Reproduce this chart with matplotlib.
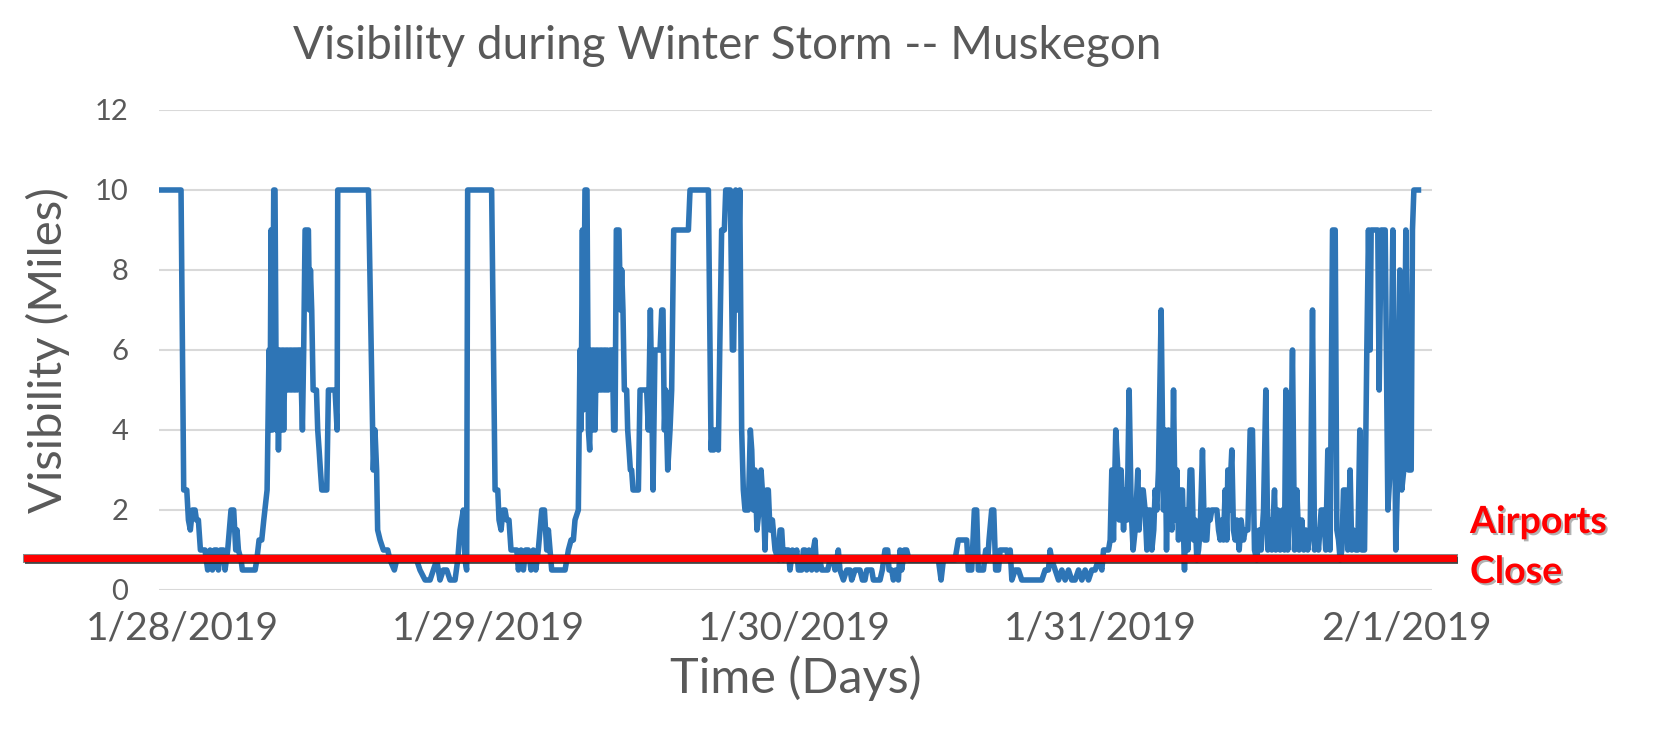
import matplotlib
matplotlib.use("Agg")
import matplotlib.pyplot as plt
import matplotlib.patheffects as pe
import numpy as np

plt.rcParams['font.family'] = ['Lato', 'DejaVu Sans']

# hours since 1/28/2019 00:00 and visibility in miles
hours = [
    -1.89, -0.12, 0.09, 0.33, 0.46, 0.61, 0.77, 0.98, 1.09, 1.24, 1.40, 1.76, 1.97, 2.16, 2.34, 2.50,
    2.68, 2.81, 2.97, 3.20, 3.33, 3.54, 3.80, 4.01, 4.17, 4.27, 4.38, 4.59, 4.69, 5.69, 5.82, 6.00,
    6.21, 6.37, 6.63, 6.78, 6.86, 6.94, 7.05, 7.15, 7.25, 7.36, 7.46, 7.52, 7.62, 7.73, 7.83, 7.93,
    8.04, 8.14, 8.25, 8.35, 8.46, 8.56, 8.67, 8.77, 8.88, 8.98, 9.08, 9.24, 9.40, 9.50, 9.61, 9.87,
    9.95, 10.03, 10.13, 10.24, 10.50, 10.60, 10.71, 10.81, 10.92, 11.31, 11.44, 11.96, 12.12, 12.17,
    14.58, 14.96, 15.09, 15.22, 15.30, 15.49, 15.75, 16.09, 16.27, 16.61, 16.79, 17.45, 18.36, 18.62,
    19.02, 19.41, 19.67, 19.93, 20.19, 20.45, 20.72, 20.98, 21.37, 21.58, 21.76, 22.02, 22.15, 22.28,
    22.36, 24.24, 24.38, 24.51, 24.72, 24.82, 24.98, 25.13, 25.29, 25.42, 25.60, 25.76, 25.94, 26.21,
    26.34, 26.55, 26.73, 26.91, 27.12, 27.33, 27.51, 27.70, 27.90, 28.17, 28.38, 28.56, 28.69, 28.82,
    28.95, 30.00, 30.26, 30.47, 30.65, 30.78, 31.04, 31.17, 31.25, 31.36, 31.43, 31.56, 31.72, 31.83,
    31.93, 32.03, 32.14, 32.24, 32.35, 32.45, 32.56, 32.66, 32.77, 32.87, 32.98, 33.08, 33.19, 33.29,
    33.39, 33.53, 33.71, 33.81, 33.92, 34.02, 34.23, 34.34, 34.44, 34.54, 34.65, 34.83, 34.91, 35.02,
    35.12, 35.22, 35.33, 35.75, 35.88, 36.40, 36.53, 36.69, 36.79, 36.90, 37.05, 37.45, 37.58, 37.68,
    37.79, 37.89, 38.05, 38.23, 38.36, 38.52, 39.67, 39.80, 41.24, 41.45, 41.55, 41.66, 41.76, 41.92,
    42.02, 42.13, 42.28, 42.49, 42.60, 42.96, 43.12, 43.22, 43.38, 43.54, 43.70, 43.85, 43.98, 44.11,
    44.37, 44.53, 44.64, 44.77, 44.90, 45.05, 45.21, 45.37, 45.47, 45.58, 45.68, 45.81, 45.94, 46.07,
    46.26, 46.47, 46.73, 46.86, 46.99, 47.12, 47.30,
    47.51, 47.64, 47.83, 47.98, 48.17, 48.30, 48.56, 48.69, 48.82, 48.95, 49.13, 49.34, 49.47, 49.60,
    49.73, 49.99, 50.13, 50.39, 50.60, 50.78, 51.04, 51.17, 51.43, 51.56, 51.83, 52.09, 52.35, 52.48,
    52.74, 53.13, 53.32, 53.52, 53.66, 54.05, 54.18, 54.70, 54.88, 55.09, 55.30, 55.41, 55.62, 55.75,
    55.93, 56.14, 56.27, 56.40, 56.61, 56.79, 56.98, 59.28, 59.49, 59.67, 60.58, 60.84, 61.50, 61.63,
    61.89, 62.10, 62.28, 62.41, 62.81, 62.99, 63.15, 63.25, 63.46, 63.62, 63.77,
    63.99, 64.12, 64.38, 64.65, 64.78, 64.91, 65.04, 65.30, 65.56, 65.82, 67.39, 67.65, 67.91, 68.04,
    68.17, 68.44, 68.70, 68.96, 69.22, 69.48, 69.74, 70.00, 70.27, 70.53, 70.79, 71.05, 71.31, 71.57,
    71.83, 72.10, 72.23, 72.62, 72.75, 72.88, 73.01, 73.19, 73.35, 73.46, 73.61, 73.80, 73.93, 74.08,
    74.24, 74.40, 74.55, 74.71, 74.92, 75.02, 75.18, 75.34, 75.49, 75.63, 75.76, 75.89, 76.02, 76.17,
    76.28, 76.41, 76.54, 76.75, 76.93, 77.06, 77.17, 77.32, 77.46, 77.59, 77.72, 77.85, 77.98, 78.11,
    78.24, 78.42, 78.58, 78.68, 78.84, 79.02, 79.15, 79.29, 79.42, 79.55, 79.68, 79.81, 79.99, 80.15,
    80.33, 80.46,
    80.59, 80.72, 81.12, 81.25, 81.38, 81.51, 81.64, 81.77, 81.90, 81.98, 82.08, 82.29, 82.42, 82.55,
    82.68, 82.87, 83.02, 83.21, 83.34, 83.55, 83.73, 83.91, 84.07, 84.25, 84.44, 84.59, 84.78, 84.96,
    85.12, 85.30, 85.43, 85.64, 85.74, 85.90, 86.08, 86.27, 86.42, 86.53, 86.68, 86.87, 87.05, 87.21,
    87.39, 87.57, 87.78, 87.94, 88.10, 88.25, 88.44, 88.62, 88.78, 88.96, 89.09, 89.30, 89.48, 89.66,
    89.82, 90.00, 90.19, 90.40, 90.53, 90.66, 90.79, 90.92, 91.05, 91.23, 91.39, 91.57, 91.70, 91.83,
    92.02, 92.17, 92.33, 92.49, 92.70, 92.88, 93.01, 93.14, 93.22, 93.59, 93.74, 93.85, 94.00, 94.19,
    94.32, 94.53, 94.71, 94.92, 95.05, 95.15, 95.31, 95.47, 95.62, 95.78, 95.94, 96.15, 96.36, 96.46,
    96.57, 96.93,
]
visibility = [
    10, 10, 2.5, 2.5, 1.75, 1.5, 2.0, 2.0, 1.75, 1.75, 1.0, 1.0, 0.5, 1.0, 0.5, 1.0,
    1.0, 0.5, 1.0, 1.0, 0.5, 1.0, 2.0, 2.0, 1.0, 1.5, 1.0, 0.75, 0.5, 0.5, 0.75, 1.25,
    1.25, 1.75, 2.5, 6, 4, 9, 4, 10, 10, 4, 6, 3.5, 6, 4, 6, 4,
    6, 5, 6, 5, 6, 5, 6, 5, 6, 5, 6, 6, 4, 6, 9, 9,
    7, 8, 7, 5, 5, 4, 3.5, 3, 2.5, 2.5, 5, 5, 4, 10,
    10, 3, 4, 3, 1.5, 1.25, 1.0, 1.0, 0.75, 0.5, 0.75, 0.75, 0.75, 0.5,
    0.25, 0.25, 0.5, 0.75, 0.25, 0.5, 0.5, 0.25, 0.25, 0.75, 1.5, 2.0, 0.75, 0.5,
    10, 10, 6, 2.5, 2.5, 1.75, 1.5, 2.0, 2.0, 1.75, 1.75, 1.0, 1.0, 1.0,
    0.5, 1.0, 0.5, 1.0, 1.0, 0.5, 1.0, 0.5, 1.0, 2.0, 2.0, 1.0, 1.5, 1.0,
    0.5, 0.5, 1.0, 1.25, 1.25, 1.75, 2.0, 6, 4, 9, 4.5, 10, 10, 4,
    3.5, 6, 4, 6, 4, 6, 5, 6, 5, 6, 5, 6, 5, 6,
    5, 6, 6, 4, 4, 9, 9, 7, 8, 7, 5, 5, 4, 3.5,
    3, 3, 2.5, 2.5, 5, 5, 4, 7, 5, 2.5, 6, 6, 7, 7,
    4, 5, 3, 4, 5, 9, 9, 10, 10, 3.5, 4, 3.5, 4, 4,
    3.5, 6, 9, 9, 10, 10, 6, 6, 10, 7, 10, 4, 2.5, 2.0,
    2.0, 4, 3.5, 2.0, 3.0, 1.5, 2.0, 3.0, 2.5, 2.0, 1.0, 2.5, 2.5, 1.5,
    1.75, 1.0, 0.75, 1.5, 1.5, 0.75, 1.0,
    1.0, 0.5, 1.0, 0.75, 1.0, 0.5, 0.5, 1.0, 1.0, 0.5, 1.0, 0.5, 1.0, 1.25,
    0.5, 0.75, 0.5, 0.5, 0.5, 0.75, 0.75, 0.5, 1.0, 0.5, 0.25, 0.5, 0.5, 0.25,
    0.5, 0.5, 0.25, 0.25, 0.5, 0.5, 0.25, 0.25, 0.5, 1.0, 1.0, 0.5, 0.5, 0.25,
    0.5, 0.25, 1.0, 0.5, 1.0, 1.0, 0.75, 0.75, 0.25, 0.75, 0.75, 1.25, 1.25, 0.5,
    0.5, 2.0, 2.0, 0.5, 0.5, 1.0, 0.75, 1.25, 2.0, 2.0, 0.5,
    0.5, 1.0, 1.0, 1.0, 0.75, 1.0, 0.25, 0.5, 0.5, 0.25, 0.25, 0.5, 0.5, 1.0,
    0.75, 0.5, 0.25, 0.5, 0.25, 0.5, 0.25, 0.25, 0.5, 0.25, 0.5, 0.25, 0.5, 0.5,
    0.75, 0.5, 1.0, 1.0, 1.25, 3.0, 1.25, 4.0, 3.0, 1.75, 3.0, 1.5, 2.5, 1.75,
    5.0, 2.0, 1.0, 1.5, 3.0, 1.5, 2.5, 2.5, 2.0, 1.0, 2.0, 2.0, 1.0, 1.5,
    2.5, 2.0, 3.0, 7.0, 2.0, 4.0, 1.0, 4.0, 2.0, 1.5, 5.0, 1.75, 3.0, 1.25,
    2.5, 2.5, 0.5, 2.0, 1.0, 3.0, 3.0, 1.25, 1.75, 0.75, 1.0, 1.5, 3.5, 1.25,
    1.25, 2.0,
    1.75, 2.0, 2.0, 1.5, 1.25, 1.75, 1.25, 2.5, 1.25, 3.0, 2.0, 3.5, 1.5, 1.25,
    1.75, 1.0, 1.75, 1.25, 1.5, 1.5, 4.0, 4.0, 1.0, 0.75, 1.5, 1.0, 2.0, 5.0,
    1.0, 1.75, 1.0, 2.5, 1.0, 2.0, 1.0, 2.0, 1.0, 5.0, 1.0, 2.5, 6.0, 1.0,
    2.5, 1.0, 1.75, 1.0, 1.5, 1.0, 1.5, 7.0, 1.0, 1.5, 1.0, 2.0, 2.0, 1.0,
    3.5, 1.0, 9.0, 9.0, 1.5, 1.25, 0.75, 1.0, 2.5, 2.5, 1.0, 3.0, 1.0, 1.5,
    1.0, 1.0, 4.0, 1.0, 1.0, 6.0, 9.0, 6.0, 9.0, 9.0, 9.0, 5.0, 9.0, 9.0,
    9.0, 2.0, 3.0, 9.0, 5.0, 1.0, 3.0, 8.0, 2.5, 3.0, 9.0, 3.0, 3.0, 9.0,
    10, 10,
]
day_labels = ['1/28/2019', '1/29/2019', '1/30/2019', '1/31/2019', '2/1/2019']
closure_vis = 0.8

grey = '#595959'
days = np.array(hours) / 24.0

fig = plt.figure(figsize=(16.64, 7.33), dpi=100)
ax = fig.add_axes([159 / 1664, 1 - 590 / 733, 1273 / 1664, 480 / 733])

ax.plot(days, visibility, color='#2E75B6', lw=4.0, solid_joinstyle='round', zorder=3)

# airports close threshold, runs past the plot on both sides
ax.plot([-0.104, 1.0165], [closure_vis, closure_vis], color='#FF0000', lw=5,
        transform=ax.get_yaxis_transform(), clip_on=False, zorder=4,
        path_effects=[pe.SimpleLineShadow(offset=(1, -1.5), shadow_color='#222222', alpha=0.75),
                      pe.Stroke(linewidth=6.5, foreground='#3a3a3a', alpha=0.6),
                      pe.Normal()])

ax.set_xlim(-0.077, 4.083)
ax.set_ylim(0, 12)
ax.set_yticks(np.arange(0, 13, 2))
ax.set_xticks(np.arange(len(day_labels)))
ax.set_xticklabels(day_labels)
ax.grid(axis='y', color='#D9D9D9', lw=1.5, zorder=0)
ax.set_axisbelow(True)
for s in ax.spines.values():
    s.set_visible(False)
ax.tick_params(axis='y', length=0, pad=22, labelsize=21, labelcolor=grey)
ax.tick_params(axis='x', length=0, pad=15, labelsize=28, labelcolor=grey)

ax.set_ylabel('Visibility (Miles)', fontsize=34, color=grey, labelpad=18)
ax.set_xlabel('Time (Days)', fontsize=35, color=grey, labelpad=6)

fig.text(727 / 1664, 1 - 46 / 733, 'Visibility during Winter Storm -- Muskegon',
         ha='center', va='center', fontsize=33, color=grey)

shadow = [pe.withSimplePatchShadow(offset=(1.5, -1.5), shadow_rgbFace='#555555', alpha=0.45)]
fig.text(1470 / 1664, 1 - 522 / 733, 'Airports', ha='left', va='center', fontsize=27,
         color='#FF0000', fontweight='bold', path_effects=shadow)
fig.text(1470 / 1664, 1 - 572 / 733, 'Close', ha='left', va='center', fontsize=27,
         color='#FF0000', fontweight='bold', path_effects=shadow)

fig.savefig('out.png', dpi=100)
